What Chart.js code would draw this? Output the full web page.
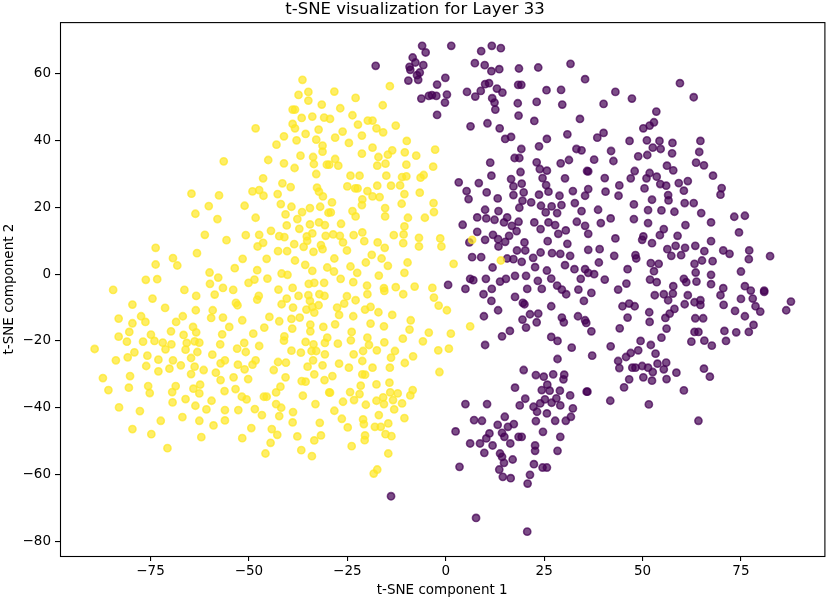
<!DOCTYPE html>
<html>
<head>
<meta charset="utf-8">
<script src="https://cdn.jsdelivr.net/npm/chart.js@4.4.1/dist/chart.umd.min.js"></script>
<style>
  body { margin: 0; background: #fff; }
  #wrap { width: 830px; height: 600px; }
</style>
</head>
<body>
<div id="wrap"><canvas id="tsne" width="830" height="600"></canvas></div>
<script>
const chartTitle = "t-SNE visualization for Layer 33";
const xLabel = "t-SNE component 1";
const yLabel = "t-SNE component 2";
const xTicks = [-75, -50, -25, 0, 25, 50, 75];
const yTicks = [-80, -60, -40, -20, 0, 20, 40, 60];

// label 0 (dark purple end of viridis)
const purplePoints = [
  [-6,68.4],[1.4,68.4],[-5.1,66.4],[-8.4,64.9],[-17.8,62.4],[-9.2,62.1],[-7.7,63.4],[-5.7,62.6],[-9,61.2],[-6.6,60.4],
  [-7.3,59.6],[-9.5,58],[-7,58.2],[-0.1,58.8],[-2.2,56.8],[-3.5,53.6],[-4.3,53.4],[-6.2,52.6],[-2.4,53.4],[0.3,53.8],
  [-0.2,51.4],[-2.2,47.7],[11.7,68.4],[14,67.7],[9,66.8],[7.4,63.2],[9.9,62.6],[13.6,61.4],[11.6,60.8],[18.6,61.6],
  [23.5,61.9],[31.7,63],[35.4,58.4],[11,57.2],[10,56.9],[13,55.6],[18.4,56.7],[19.2,56.7],[5.4,54.6],[7.5,53.2],
  [8.9,54.9],[14.4,54.4],[11.8,52.7],[12.4,51.4],[12.6,49.3],[25.6,55.1],[29.3,55.2],[18.3,51.2],[23.1,51.6],[29.6,50.8],
  [18.5,47.5],[22.5,45.9],[34.1,46.5],[6.3,44.3],[10.6,45.2],[13.7,43.7],[15.1,40.5],[16.6,41.1],[25.7,40.5],[30.9,41.9],
  [19.2,37.5],[23.7,38.3],[33.2,37.5],[34.5,37.1],[17.5,34.8],[18.7,34.8],[23.1,33.5],[23.9,31.5],[25.7,31],[29.2,33.2],
  [31.3,34.2],[11.3,33.4],[19,30.6],[35.9,30.9],[11.6,29.5],[3.3,27.5],[8.4,27.3],[16.6,28.5],[24.6,28.8],[30.3,28.7],
  [5.3,24.9],[10.4,24.5],[17.2,26.3],[19.3,27.1],[25.5,26.7],[5.8,22.5],[13.2,22.7],[17.2,23.7],[19.8,24.5],[23.7,23.8],
  [26.1,24.7],[28.9,23.5],[32.3,24.9],[35.4,23.5],[19.5,22],[21.7,21.5],[18.7,19.9],[24.2,20.5],[26.9,20.3],[29.4,20.7],
  [32.8,21.3],[10,19.3],[13.4,18.9],[15.6,17],[25.4,18.5],[28.3,18.3],[8,17],[10.3,16.7],[12.4,16.3],[14.8,15.5],
  [18.5,15.7],[22.5,15.5],[26.1,15.5],[33.3,15.7],[4.3,14.8],[16.8,14.5],[24.1,13.5],[27.8,14.7],[30.5,13.1],[35.4,14.5],
  [8,12.7],[12,11.8],[18,12.9],[28.6,12.1],[36.2,12.1],[6,9.5],[10,10.3],[13.3,10.5],[16.1,11.5],[20,9.5],
  [25.9,9.9],[30.9,9.1],[13.4,8.3],[15.1,9.7],[18.1,7.1],[20.2,7.1],[24.1,6.5],[27,6.3],[6.7,5.1],[9,5.1],
  [15.6,4.7],[17.2,4.5],[22.2,4.9],[29.1,6.1],[31.6,5.5],[11.9,2],[19.3,3.7],[22.7,2.1],[25.7,1.1],[30.3,2.7],
  [32.7,1.5],[35.4,1.5],[0.6,-3.2],[6.2,-1.4],[7,-1.8],[10.2,-1.4],[13.8,-2.2],[15.3,-1.4],[17.6,-0.5],[20.4,-0.5],
  [23.4,-2],[26.8,-1.3],[28.3,-3.4],[34.3,-1.4],[5,-4.4],[11.7,-4.4],[20.7,-4.4],[24.4,-4.4],[29.5,-4.6],[33.7,-4.6],
  [9.6,-6],[11.6,-8],[13.3,-10.8],[9.7,-12.6],[17.6,-6.8],[19.6,-8.6],[20,-9],[21.4,-12],[23.5,-11.8],[19.5,-13.6],
  [23.1,-14.4],[20.4,-16],[26.8,-9.6],[29.5,-13],[30,-14.4],[33.6,-12.6],[35.4,-13.8],[35.1,-8],[30.6,-6],[16.3,-17],
  [14.3,-18.6],[10,-21.2],[26.8,-18.8],[28.4,-20],[32,-22],[28.4,-25.4],[19.8,-28.7],[22.9,-30.2],[24.9,-30.7],[27.3,-30],
  [30.1,-30.1],[29.9,-31.5],[17.6,-34],[25.8,-33.1],[24.4,-34.7],[26.4,-34.9],[29,-34.9],[31.6,-36.3],[35.8,-35.2],[20.2,-37.3],
  [18.8,-39.3],[22.3,-39.7],[24,-38.7],[25.2,-37.5],[26.9,-38.5],[28.1,-37.2],[29.1,-39.3],[23.2,-41.2],[25.7,-41.7],[32.3,-40.2],
  [31.8,-42.7],[30.5,-43.9],[27.8,-43.9],[22.9,-44],[5,-38.9],[10.5,-38.9],[15,-42.7],[7.2,-43.7],[9.2,-43.9],[13.2,-45.1],
  [15.8,-45.7],[17.3,-44.9],[2.5,-47.1],[11.1,-47.7],[14.3,-47.5],[18.5,-48.7],[19.3,-48.7],[24.7,-47.2],[29.1,-48.7],[6.2,-50.7],
  [8.7,-50.7],[10.3,-49.2],[11.9,-51.3],[14.9,-48.7],[16.4,-50.7],[9.8,-53.5],[13.8,-53.7],[14.3,-54.7],[22.7,-51.3],[22.7,-52.9],
  [28.4,-52.9],[17,-55.5],[14.8,-56.5],[3.5,-57.7],[13.6,-58.5],[22.4,-56.9],[24.6,-57.9],[25.7,-57.9],[14.5,-60.7],[16.5,-61.1],
  [21.4,-60.1],[20.8,-62.7],[-13.9,-66.5],[7.7,-73],[20.7,-77.1],
  [43.1,54.6],[47.3,52.6],[59.5,57.2],[63,53],[40.1,51],[53.5,48.7],[52.9,45.5],[51.8,44.5],[50.2,43.7],[40.1,42.3],
  [38.5,40.9],[46.7,39.9],[51.1,40.1],[54.3,39.9],[57.6,39.3],[64.7,39.9],[42,36.9],[52.6,37.9],[54.6,37.5],[57.5,36.2],
  [64.4,36.6],[48.9,35.3],[51.2,35.7],[37.7,34.3],[63.6,33.4],[65.6,32.6],[56.2,32.5],[57.8,31.1],[42.6,33.9],[36.2,30.8],
  [48,30.9],[51.8,30.3],[53.6,29.2],[67.9,29.5],[40.4,28.8],[47,28.7],[51,28.7],[54.5,27],[56,26.5],[59.2,27.3],
  [61.5,27.9],[44.1,26.6],[36.2,25.5],[40.6,24.7],[50.5,25.7],[60.5,25],[70.1,25.8],[69.8,23.8],[43.9,23.5],[52.4,22.3],
  [56.5,23.7],[56.6,22.1],[60.7,21.3],[63,21.3],[34.5,18.9],[38.7,19.3],[47.8,20.9],[51.4,19.2],[54.8,19.1],[58.1,18.7],
  [64.9,18.3],[73.3,17.2],[76,17.5],[39.4,15.3],[41.9,16.7],[47.8,16.5],[51.4,15.3],[60.9,14.7],[67.4,15.5],[55.4,13.5],
  [54.4,11.7],[58.9,11.5],[74.5,12.5],[43.1,10.7],[50.2,11.3],[49.9,10.3],[52.4,9.3],[67.4,9.9],[36.2,7.3],[39.1,7.5],
  [56.3,7.5],[58.4,8.5],[60.8,7.9],[63.4,8.5],[65.7,6.9],[70.5,7.1],[72.1,6.1],[77.1,7.1],[77,4.5],[82.4,5.4],
  [42.8,5.5],[48.2,5.7],[48.4,4.7],[57.3,5.5],[59.8,5.7],[65.1,4.1],[67.8,3.9],[38.9,3.5],[52.1,3.3],[54.1,3.1],
  [63.2,3.1],[46.2,1.5],[52.9,0.9],[63.5,0.5],[67.4,-0.2],[75,0.8],[37.7,0],[36.2,0.4],[40.4,-1.6],[51.9,-1.6],
  [53.6,-2.4],[60.5,-1.4],[61.1,-2.4],[63.7,-2.2],[67.4,-3],[45.9,-2.8],[57.8,-3.6],[70.5,-4.2],[76,-3.6],[43.8,-4.6],
  [80.9,-4.9],[77.5,-4.9],
  [37,-5.6],[53.1,-6.3],[55.4,-6],[56.5,-7.8],[57.7,-5.8],[61.5,-6.3],[58.1,-10.4],[44.9,-9.6],[46.6,-8.8],[48,-9.6],
  [60.7,-9],[63.2,-8.4],[64.7,-7.8],[64.7,-9.2],[69.8,-6.3],[70.6,-9.2],[75,-7.4],[78,-7.3],[80.9,-5.3],[78.7,-9.6],
  [79.9,-11.2],[73.5,-11],[76,-12.6],[87.7,-8.2],[86.5,-10.8],[46.2,-13],[51.7,-11.4],[51.8,-14.3],[55.8,-13.1],[56.9,-11.8],
  [63.4,-13.2],[65.4,-13.2],[78.2,-15.2],[77,-17.3],[73.8,-17.4],[70.8,-17],[71.2,-20],[63.2,-17.3],[64.2,-17.3],[44.2,-16.2],
  [37,-17.1],[35.7,-14.6],[56.1,-16.3],[54.8,-19],[62.4,-20.2],[65.7,-19.9],[67.6,-21.4],[49.5,-20],[52.1,-21.2],[41.9,-21.6],
  [48.9,-22.8],[47,-23.6],[45.8,-24.8],[37.2,-24.4],[43.8,-26],[44.1,-28.1],[47.4,-28],[48.2,-28],[49.9,-27.5],[51.4,-28],
  [53.3,-23.8],[53.8,-26.8],[56,-26.5],[55.4,-28.5],[52.6,-29.3],[50.2,-30.9],[52.4,-31.9],[56.1,-31.4],[58.6,-29.5],[65.6,-28.3],
  [67.1,-30.7],[46.6,-31.5],[45.3,-33.9],[36,-35.2],[60.5,-34.8],[41.8,-37.9],[51.6,-39],[64.2,-43.9]
];

// label 1 (yellow end of viridis)
const yellowPoints = [
  [-36.4,58.2],[-37.4,53.7],[-34.9,54.6],[-34.9,52],[-31.5,50.8],[-38.9,49.3],[-38.3,49.3],[-36.6,46.8],[-33.9,47.2],[-30.9,46.9],
  [-48.3,43.7],[-38.9,45],[-38.3,43.7],[-32.3,43.3],[-35.6,42],[-41.1,41.3],[-37.9,40.1],[-43,38.8],[-32.9,40.3],[-31.3,38.5],
  [-31.3,36.7],[-56.4,33.8],[-45.1,34.2],[-41.1,33.2],[-36.9,35.5],[-33.7,35.1],[-33.5,33],[-38.4,31.8],[-30.2,32.8],[-32.9,30],
  [-46.4,28.7],[-41.5,27.2],[-39.4,26.1],[-49.1,24.8],[-47.4,25.2],[-46.3,23.5],[-42.7,24],[-32.7,25.9],[-32.2,24.7],[-31.2,23.3],
  [-64.6,24.1],[-57.6,23.6],[-60.2,20.4],[-63.6,18.1],[-58,16.5],[-51.1,20.5],[-48.3,16.9],[-41.9,21],[-39.2,20.2],[-34.5,19.8],
  [-36.5,18.6],[-40.7,17.9],[-37.7,16.5],[-31.9,20.2],[-29.8,18.4],[-40.4,14.6],[-34.5,14.9],[-37.2,13.6],[-32.2,15.5],[-30.7,14.7],
  [-61.2,11.8],[-55.7,10.2],[-50.8,11.7],[-47.4,11.8],[-46.4,9.4],[-44.4,13],[-42.3,11.4],[-41,11.1],[-35.3,11.3],[-33.9,12.2],
  [-35.2,10],[-30.5,11.5],[-73.7,7.9],[-63.2,6.3],[-47.8,8.3],[-38.5,9],[-36.1,8.2],[-31.7,8.7],[-42.6,6.9],[-40.3,6.9],
  [-33.6,6.7],[-31.3,7.5],[-69.3,4.8],[-68.2,2.6],[-73.7,2.9],[-51.6,4.6],[-45.5,4.6],[-38.3,4.1],[-53.6,1.8],[-47.9,1.2],
  [-35.7,2.8],[-33.9,1],[-30.1,2],[-76.2,-1.7],[-73.3,-1.5],[-60,0.5],[-57.8,-1],[-41.7,0.2],[-40.2,-0.2],[-50.1,-2.6],
  [-48.6,-1.6],[-45.3,-1.3],[-34.8,-2.9],[-33.4,-2.6],[-30.9,-2.6],[-84.5,-4.7],[-66.4,-4.7],[-59.9,-2.9],[-56.6,-4.1],[-54,-4.7],
  [-38.9,-4.1],
  [-79.6,-9.1],[-74.5,-7.3],[-71.3,-10.1],[-63.4,-6.5],[-58.7,-6.1],[-63.5,-10.8],[-59.2,-10.8],[-59.6,-13.1],[-56.6,-13],[-53.3,-8.6],
  [-52.9,-9.3],[-47.5,-6.5],[-47.9,-7.6],[-42.5,-4.6],[-41.7,-9],[-40.4,-7.3],[-37.4,-6.5],[-34.9,-6.3],[-32.1,-6],[-30.8,-6.5],
  [-34.5,-8],[-33.9,-9.8],[-32.3,-9.3],[-35.4,-10.6],[-33.4,-11.5],[-38.8,-10],[-37.1,-13],[-39.2,-13.4],[-42.3,-14.1],[-44.8,-12.8],
  [-51.7,-13.8],[-83.1,-13.3],[-77.4,-12.6],[-79.6,-14.7],[-76.3,-14.3],[-68.5,-14.3],[-66.8,-12.6],[-80.4,-17.3],[-83.1,-18.7],[-81,-20.2],
  [-74.9,-18.1],[-74,-20],[-76.9,-20.2],[-71.9,-20.5],[-69.7,-21],[-71.2,-22.5],[-69.8,-17.1],[-66.6,-18.2],[-64.2,-15.8],[-63.4,-17.4],
  [-65.8,-20.6],[-63.8,-20.1],[-62.6,-20.5],[-66.1,-22.6],[-63.1,-23.3],[-56.8,-18],[-57.3,-21],[-55,-15.8],[-48.9,-17.8],[-46.1,-16],
  [-51.2,-20.6],[-53,-22.3],[-50.8,-23.3],[-47.4,-21.5],[-41,-18.6],[-41.1,-19.9],[-39,-16.3],[-34.4,-15.1],[-34.4,-17.1],[-31.1,-15.8],
  [-35.6,-20.3],[-33.6,-21],[-30.7,-20.6],[-30.1,-19],[-39.2,-22.9],[-36.8,-23.5],[-34.1,-23],[-32.9,-23],[-30.7,-24],[-33.7,-25.8],
  [-31.3,-27.3],[-35.1,-27.7],[-33.4,-30],[-30.8,-31.7],[-29.6,-35.4],[-36.6,-32],[-35.6,-32.2],[-36.3,-36.4],[-33.1,-38.9],[-32,-44.5],
  [-31.7,-48.3],[-33.4,-49.8],[-34,-54.5],[-36.7,-52.7],[-37.7,-48.6],[-38.9,-44.4],[-38.8,-41.3],[-40.7,-30.9],[-42,-33.7],[-43.1,-35.4],
  [-40.6,-26.5],[-42.6,-26.3],[-43.7,-28.7],[-43.1,-38.9],[-41.8,-40],[-42.3,-42.5],[-44.2,-46.4],[-42.8,-48.1],[-44.5,-50.5],[-45.8,-53.7],
  [-49.4,-46.1],[-51.7,-49.1],[-46.7,-42.2],[-48.5,-40.4],[-46.2,-36.7],[-45.5,-36.7],[-50.6,-37.5],[-51.8,-36.7],[-52.7,-40.7],[-56.1,-40.7],
  [-56.1,-43.8],[-59,-45.3],[-59.5,-37.9],[-60.8,-40.5],[-63.6,-39.4],[-66.1,-37.4],[-62.6,-43.9],[-62.1,-48.8],[-66.9,-42.8],[-69.4,-38.4],
  [-69.5,-35.3],[-68.6,-33.5],[-64.1,-34.3],[-62.6,-35.7],[-62.4,-33.1],[-56.2,-35],[-53.4,-34.4],[-53.9,-30.9],[-50.2,-31.4],[-57.2,-31.7],
  [-58.4,-29.5],[-61.5,-28.7],[-63.8,-27.7],[-64.7,-29.9],[-64.7,-25.1],[-67.3,-27.3],[-70.2,-28.3],[-69.3,-25.8],[-73,-25.6],[-75.8,-24.4],
  [-76.1,-27.5],[-73,-29.1],[-79.1,-23.4],[-80.8,-24.9],[-83.8,-25.8],[-89.2,-22.4],[-87.1,-31.1],[-85.7,-34.7],[-80.2,-30.5],[-80.5,-34],
  [-75.6,-33.5],[-75.2,-35.6],[-83,-39.9],[-77.7,-41],[-72.4,-43.9],[-79.6,-46.4],[-74.8,-47.9],[-70.7,-52.1],[-59.3,-24.1],[-57.2,-26.7],
  [-56.1,-25.8],[-52.8,-27.1],[-51.1,-28.5],[-49.1,-27.1],[-48.3,-25.8],
  [-14.2,56.3],[-28.3,54.7],[-22.9,52.8],[-16,50.6],[-26.8,49.7],[-23.7,47.6],[-29.4,46.5],[-19.8,46],[-18.6,46],[-22.3,44.8],
  [-17.6,43.7],[-15.9,42.5],[-12.7,44.5],[-26.2,42.7],[-28.1,40.9],[-21.3,41.5],[-24.6,39.3],[-9.9,39.9],[-18.6,37.9],[-21.3,36.1],
  [-13.6,37.1],[-14.7,35.8],[-17.1,35.1],[-2.7,37.3],[-10.4,36.5],[-7.5,35.5],[-28.1,34.5],[-29.6,32.8],[-27.3,32.5],[-17.4,32.5],
  [-10,32.8],[-3.2,32.2],[-15.3,33.1],[-24.2,29.5],[-21.9,29.5],[-15.1,29.5],[-11.1,29.1],[-10,29.3],[-6.4,28.9],[-5.6,29.7],
  [-25,26.3],[-23,25.7],[-22.4,25.7],[-17.4,26.5],[-13.9,26.5],[-11.6,26.6],[-19.9,24.9],[-18.6,23.3],[-16.8,23.1],[-28.9,21.5],
  [-21.2,22.4],[-21.3,20.7],[-10.5,24],[-6.6,24.4],[-11.2,21.1],[-3.1,21.3],[-29.2,18.5],[-23.7,18.9],[-15.4,19.8],[-15.4,17.3],
  [-22.9,17.3],[-9.6,16.9],[-5.3,16.9],[-3,18.6],[-26.6,15.1],[-10.5,14.3],[-28.6,11.9],[-26.9,11.5],[-23.4,11.7],[-21.2,12.5],
  [-13.2,11.7],[-10.7,11.9],[-6.8,10.9],[-1.4,10.7],[6.7,10.3],[-26.1,9.5],[-20.7,9.9],[-17.3,9.5],[-10.8,9.3],[-6.8,8.3],
  [-1.1,8.3],[-25.1,7.1],[-15.5,7.9],[-28.3,4.7],[-18.8,5.8],[-16.3,4.7],[-9.7,3.5],[2,3.1],[14,4.1],[-24.2,2.3],
  [-20.3,3.5],[-14.7,2.5],[-22.5,0.4],[-28.4,0.8],[-10.5,0.4],[-17,-0.4],[-26.7,-1.4],[-23.5,-2.4],[-20,-3.4],[-15.7,-4.2],
  [-12.7,-3.9],[-7.9,-3.7],[-3.4,-4.1],
  [-25.1,-6.6],[-19.9,-6],[-15.6,-5],[-10.8,-6],[-3,-7],[-27.6,-10],[-25.8,-8.8],[-22.9,-7.8],[-20.5,-10.6],[-19.1,-9.8],
  [-17.1,-11.4],[-13.6,-12.2],[-1.8,-9.4],[0.3,-10.8],[-27.1,-12.2],[-23.5,-12.6],[-8.9,-13.8],[6.2,-15.6],[-28.1,-15],[-19.1,-14.8],
  [-15.7,-15.6],[-9.2,-16.6],[-4.3,-17.5],[1.3,-17.8],[-23.9,-17.3],[-19.9,-19],[-10.9,-19.3],[-5.8,-20.1],[-15.6,-20.4],[-27.4,-20.8],
  [-24.1,-19.8],[-19.5,-21.2],[-17.5,-22.8],[-21,-23],[-12.9,-23],[-1.9,-22.8],[0.8,-22.3],[-23.4,-24],[-13.9,-25],[-8.3,-24.6],
  [-27.1,-26.8],[-21.2,-26],[-10.4,-26.6],[-24.6,-28],[-18.6,-28],[-14.2,-28],[-1.6,-29.3],[-28.8,-30.5],[-21.2,-30],[-20.5,-30.1],
  [-14.3,-32.5],[-21.6,-33.4],[-17.6,-33],[-8.4,-34.7],[-29.4,-35.5],[-24.3,-35.3],[-21.9,-35.9],[-14.1,-35.4],[-12.2,-35.7],[-9,-36.3],
  [-26.1,-38.2],[-23.3,-37.7],[-17.6,-37.9],[-15.9,-36.9],[-13.4,-37.7],[-11.1,-38.7],[-20.3,-39.1],[-15.7,-38.9],[-28.3,-40.9],[-13.1,-40.5],
  [-17,-42.2],[-10.5,-43.1],[-26.4,-43.3],[-21,-43.5],[-20.8,-44.9],[-24.9,-45.9],[-18,-45.7],[-16.5,-45.7],[-14.6,-44.7],[-15.3,-47.9],
  [-13.8,-48.5],[-20.5,-48.3],[-20.6,-49.7],[-23.9,-51.5],[-14.6,-53.7],[-17.4,-58.5],[-18.3,-59.7]
];

const purple = "rgba(68, 1, 84, 0.7)";
const yellow = "rgba(253, 231, 37, 0.7)";

const toXY = (pts) => pts.map((p) => ({ x: p[0], y: p[1] }));
const fmt = (v) => (v < 0 ? "\u2212" + Math.abs(v) : String(v));

// box around the plot area like matplotlib's spines
const frame = {
  id: "frame",
  afterDatasetsDraw(chart) {
    const { ctx, chartArea } = chart;
    ctx.save();
    ctx.strokeStyle = "#000";
    ctx.lineWidth = 1.1;
    ctx.strokeRect(chartArea.left + 0.5, chartArea.top + 0.5,
      chartArea.right - chartArea.left, chartArea.bottom - chartArea.top);
    ctx.restore();
  },
};

Chart.defaults.font.family = "'DejaVu Sans', sans-serif";
Chart.defaults.color = "#000";

new Chart(document.getElementById("tsne"), {
  type: "scatter",
  data: {
    datasets: [
      {
        label: "1",
        data: toXY(yellowPoints),
        backgroundColor: yellow,
        borderColor: yellow,
        borderWidth: 1.6,
        pointRadius: 3.6,
      },
      {
        label: "0",
        data: toXY(purplePoints),
        backgroundColor: purple,
        borderColor: purple,
        borderWidth: 1.6,
        pointRadius: 3.6,
      },
    ],
  },
  options: {
    responsive: false,
    animation: false,
    devicePixelRatio: 1,
    layout: { padding: { left: 0, right: 0, top: 0, bottom: 0 } },
    plugins: {
      legend: { display: false },
      tooltip: { enabled: false },
      title: {
        display: true,
        text: chartTitle,
        color: "#000",
        font: { size: 16.5, weight: "normal" },
        padding: { top: 0, bottom: 2.3 },
      },
    },
    scales: {
      x: {
        type: "linear",
        min: -98,
        max: 96.2,
        afterBuildTicks: (s) => { s.ticks = xTicks.map((v) => ({ value: v })); },
        afterFit: (s) => { s.height = 44; s.paddingRight = 2; },
        ticks: { color: "#000", font: { size: 13.5 }, padding: 2, maxRotation: 0, autoSkip: false, callback: fmt },
        grid: { drawOnChartArea: false, drawTicks: true, tickLength: 5, color: "#000", lineWidth: 1.1 },
        border: { display: false },
        title: { display: true, text: xLabel, color: "#000", font: { size: 13.5 }, padding: { top: 0, bottom: 1.5 } },
      },
      y: {
        type: "linear",
        min: -84.4,
        max: 75.5,
        afterBuildTicks: (s) => { s.ticks = yTicks.map((v) => ({ value: v })); },
        afterFit: (s) => { s.width = 60; },
        ticks: { color: "#000", font: { size: 13.5 }, padding: 4, autoSkip: false, callback: fmt },
        grid: { drawOnChartArea: false, drawTicks: true, tickLength: 5, color: "#000", lineWidth: 1.1 },
        border: { display: false },
        title: { display: true, text: yLabel, color: "#000", font: { size: 13.5 }, padding: { top: 1.5, bottom: 0 } },
      },
    },
  },
  plugins: [frame],
});
</script>
</body>
</html>
